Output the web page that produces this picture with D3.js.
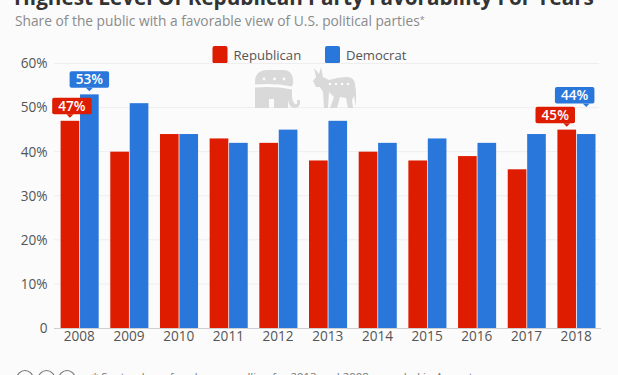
<!DOCTYPE html>
<html>
<head>
<meta charset="utf-8">
<script src="https://cdn.jsdelivr.net/npm/d3@7"></script>
<style>
  html, body { margin: 0; padding: 0; background: #fbfbfb; overflow: hidden; }
  text { font-family: "Open Sans", sans-serif; }
</style>
</head>
<body>
<div id="vizcontainer"></div>
<script>
const years = ['2008','2009','2010','2011','2012','2013','2014','2015','2016','2017','2018'];
const republican = [47,40,44,43,42,38,40,38,39,36,45];
const democrat = [53,51,44,42,45,47,42,43,42,44,44];
const yTicks = [0,10,20,30,40,50,60];
const seriesNames = ['Republican','Democrat'];
const seriesColors = ['#dd1c00','#2a77dc'];
// only these bars get a callout
const calloutYears = ['2008','2018'];

const width = 618,
  height = 375;

const viz = d3.select('#vizcontainer')
  .append('svg')
  .attr('width', width)
  .attr('height', height);

viz.append('rect').attr('width', width).attr('height', height).attr('fill', '#fbfbfb');

const x = d3.scaleBand()
  .domain(years)
  .range([54.5, 601])
  .padding(0);

const y = d3.scaleLinear()
  .domain([0, 60])
  .range([328, 63.5]);

const inner = d3.scaleBand()
  .domain([0, 1])
  .range([6.1, x.bandwidth() - 5.5])
  .paddingInner(0.04);

// title + subtitle
viz.append('text')
  .attr('x', 14).attr('y', 5)
  .style('font-size', '20.7px').style('font-weight', 700).attr('fill', '#333')
  .text('Highest Level Of Republican Party Favorability For Years');

const sub = viz.append('text')
  .attr('x', 15).attr('y', 26)
  .style('font-size', '13.75px').attr('fill', '#8a8a8a')
  .text('Share of the public with a favorable view of U.S. political parties');
sub.append('tspan').attr('dy', -3).style('font-size', '9px').text('*');

// legend
const legendX = [212.5, 325];
seriesNames.forEach((name, i) => {
  viz.append('rect')
    .attr('x', legendX[i]).attr('y', 46)
    .attr('width', 15).attr('height', 17.5).attr('rx', 2)
    .attr('fill', seriesColors[i]);
  viz.append('text')
    .attr('x', legendX[i] + 21).attr('y', 60)
    .style('font-size', '13.1px').attr('fill', '#555')
    .text(name);
});

// grid
viz.append('g')
  .selectAll('line')
  .data(yTicks.filter(d => d > 0))
  .join('line')
  .attr('x1', 54).attr('x2', 599)
  .attr('y1', d => y(d)).attr('y2', d => y(d))
  .attr('stroke', '#eeeeee');

// y axis
const yAxis = viz.append('g')
  .attr('transform', 'translate(47.5,0)')
  .call(d3.axisLeft(y).tickValues(yTicks).tickSize(0).tickPadding(0)
    .tickFormat(d => d === 0 ? '0' : d + '%'));
yAxis.select('.domain').remove();
yAxis.selectAll('text')
  .style('font-family', '"Open Sans", sans-serif')
  .style('font-size', '13.6px').attr('fill', '#555');

// party mascots
const mascot = viz.append('g').attr('fill', '#d9d9d9');
mascot.append('path') // elephant top
  .attr('d', 'M255 84.5V82Q255 70 268 70H283Q292 70 293 79Q294 83 292 86.5Q275 83 255 84.5Z');
mascot.append('path') // elephant legs and trunk
  .attr('d', 'M255 87.5Q275 86 292 89.5V96Q292 101 295 104Q298 105 297 100H300Q301 108 294 108Q289 107 288 100V108H274V99H269V108H255Z');
mascot.append('path') // donkey
  .attr('d', 'M314 68L319 74L321 67L323 77L329 80Q338 77 347 77Q354 77 355 84L356 92L356 107L354 96L352 100L353 108H348L346 98L340 97L337 108H330L334 97L329 92L328 108H324L323 92L320 87L316 87L313 81L316 77Z');
[264, 274.5, 284].forEach(sx => {
  viz.append('circle').attr('cx', sx).attr('cy', 79).attr('r', 1.4).attr('fill', '#fbfbfb');
});
[330, 336, 342, 348].forEach(sx => {
  viz.append('circle').attr('cx', sx).attr('cy', 84).attr('r', 1.3).attr('fill', '#fbfbfb');
});

// bars
[republican, democrat].forEach((vals, s) => {
  viz.append('g')
    .selectAll('rect')
    .data(vals)
    .join('rect')
    .attr('x', (d, i) => x(years[i]) + inner(s))
    .attr('y', d => y(d))
    .attr('width', inner.bandwidth())
    .attr('height', d => y(0) - y(d))
    .attr('fill', seriesColors[s]);
});

// baseline
viz.append('line')
  .attr('x1', 54).attr('x2', 601)
  .attr('y1', y(0) + 0.5).attr('y2', y(0) + 0.5)
  .attr('stroke', '#cfcfcf');

// x axis
const xAxis = viz.append('g')
  .attr('transform', `translate(0,${y(0)})`)
  .call(d3.axisBottom(x).tickSize(0).tickPadding(3));
xAxis.select('.domain').remove();
xAxis.selectAll('text')
  .style('font-family', '"Open Sans", sans-serif')
  .style('font-size', '13.6px').attr('fill', '#555');

// callouts: box nudged off the bar so the pairs don't collide
const cw = 39.5, ch = 16.5;
calloutYears.forEach(year => {
  const idx = years.indexOf(year);
  [republican, democrat].forEach((vals, s) => {
    const value = vals[idx];
    const cx = x(year) + inner(s) + inner.bandwidth() / 2;
    const last = year === '2018';
    // the 2018 Democrat label sits above the Republican one
    const tip = last && s === 1 ? y(value) - 27 : y(value) - 3;
    const shift = last ? -11.5 : (s === 0 ? 2 : 0);
    const boxX = cx + shift - cw / 2;
    const g = viz.append('g');
    g.append('rect')
      .attr('x', boxX).attr('y', tip - 3.5 - ch)
      .attr('width', cw).attr('height', ch).attr('rx', 2)
      .attr('fill', seriesColors[s]);
    g.append('path')
      .attr('d', `M${cx - 3.5},${tip - 3.5}L${cx},${tip}L${cx + 3.5},${tip - 3.5}Z`)
      .attr('fill', seriesColors[s]);
    g.append('text')
      .attr('x', boxX + cw / 2).attr('y', tip - 3.5 - ch / 2 + 4.8)
      .attr('text-anchor', 'middle')
      .style('font-size', '13.6px').style('font-weight', 600).attr('fill', '#fff')
      .text(value + '%');
  });
});

// cc icons, cut by the lower edge
[25, 46.5, 67].forEach(cx => {
  viz.append('circle')
    .attr('cx', cx).attr('cy', 378.5).attr('r', 8)
    .attr('fill', 'none').attr('stroke', '#777').attr('stroke-width', 1.2);
});

viz.append('text')
  .attr('x', 92).attr('y', 381)
  .style('font-size', '11.4px').attr('fill', '#777')
  .text('* September of each year, polling for 2013 and 2008 recorded in August');
</script>
</body>
</html>
